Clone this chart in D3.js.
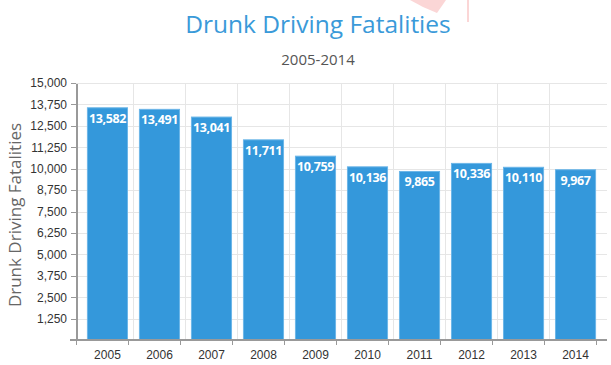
<!DOCTYPE html>
<meta charset="utf-8">
<style>
body { margin: 0; background: #fff; }
svg { font-family: "Open Sans", sans-serif; }
.grid line { stroke: #e6e6e6; shape-rendering: crispEdges; }
.axis path, .axis line { stroke: #999; shape-rendering: crispEdges; }
.axis text { font-size: 12px; fill: #333; }
.bar { fill: #3498db; stroke: #6cb6e8; stroke-width: 1; }
.label { fill: #fff; font-size: 12.5px; font-weight: bold; text-anchor: middle; letter-spacing: -0.4px; }
</style>
<body>
<script src="https://d3js.org/d3.v7.min.js"></script>
<script>

var years = ["2005", "2006", "2007", "2008", "2009", "2010", "2011", "2012", "2013", "2014"];
var fatalities = [13582, 13491, 13041, 11711, 10759, 10136, 9865, 10336, 10110, 9967];
var yTicks = [1250, 2500, 3750, 5000, 6250, 7500, 8750, 10000, 11250, 12500, 13750, 15000];

var W = 611, H = 365;
var margin = {top: 83, right: 4, bottom: 25, left: 76},
    width = W - margin.left - margin.right,
    height = H - margin.top - margin.bottom;

var svg = d3.select("body").append("svg")
    .attr("width", W)
    .attr("height", H);

// faint pink mark near the title
svg.append("path")
    .attr("d", "M410,0 L446,0 L437,13 L423,7 Z")
    .attr("fill", "#fbd6d6");
svg.append("line")
    .attr("x1", 468).attr("x2", 468).attr("y1", 0).attr("y2", 22)
    .attr("stroke", "#fbd6d6").attr("stroke-width", 2);

svg.append("text")
    .attr("x", 318).attr("y", 33)
    .attr("text-anchor", "middle")
    .style("font-size", "24.5px")
    .style("fill", "#3a9ad9")
    .text("Drunk Driving Fatalities");

svg.append("text")
    .attr("x", 318).attr("y", 65)
    .attr("text-anchor", "middle")
    .style("font-size", "15px")
    .style("fill", "#555")
    .text("2005-2014");

svg.append("text")
    .attr("transform", "translate(21," + 215 + ") rotate(-90)")
    .attr("text-anchor", "middle")
    .style("font-size", "17px")
    .style("fill", "#666")
    .text("Drunk Driving Fatalities");

var chart = svg.append("g")
    .attr("transform", "translate(" + margin.left + "," + margin.top + ")");

var x = d3.scaleBand()
    .domain(years)
    .range([0, width])
    .padding(0.21);

var y = d3.scaleLinear()
    .domain([0, 15000])
    .range([height, 0]);

// horizontal grid
chart.append("g").attr("class", "grid")
  .selectAll("line")
  .data(yTicks)
  .enter().append("line")
    .attr("x1", 0).attr("x2", width)
    .attr("y1", function(d) { return Math.round(y(d)) + 0.5; })
    .attr("y2", function(d) { return Math.round(y(d)) + 0.5; });

// vertical grid at category boundaries
chart.append("g").attr("class", "grid")
  .selectAll("line")
  .data(years.slice(1))
  .enter().append("line")
    .attr("x1", function(d) { return x(d) - x.step() * x.paddingInner() / 2; })
    .attr("x2", function(d) { return x(d) - x.step() * x.paddingInner() / 2; })
    .attr("y1", 0).attr("y2", height);

chart.selectAll(".bar")
    .data(fatalities)
  .enter().append("rect")
    .attr("class", "bar")
    .attr("x", function(d, i) { return x(years[i]) + 0.5; })
    .attr("y", function(d) { return y(d) + 0.5; })
    .attr("width", x.bandwidth() - 1)
    .attr("height", function(d) { return height - y(d) - 0.5; });

chart.selectAll(".label")
    .data(fatalities)
  .enter().append("text")
    .attr("class", "label")
    .attr("x", function(d, i) { return x(years[i]) + x.bandwidth() / 2; })
    .attr("y", function(d) { return y(d) + 15.5; })
    .text(function(d) { return d3.format(",")(d); });

var yAxis = chart.append("g")
    .attr("class", "axis")
    .call(d3.axisLeft(y).tickValues(yTicks.concat([0])).tickFormat(function(d) { return d === 0 ? "" : d3.format(",")(d); }).tickSize(5).tickSizeOuter(0).tickPadding(4));
yAxis.select(".domain").attr("stroke-width", 2).attr("stroke", "#aaa");

var xAxis = chart.append("g")
    .attr("class", "axis")
    .attr("transform", "translate(0," + height + ")")
    .call(d3.axisBottom(x).tickSize(0).tickPadding(10));
xAxis.select(".domain").remove();
xAxis.append("line")
    .attr("x1", -6).attr("x2", width)
    .attr("stroke", "#777").attr("stroke-width", 1.5);
xAxis.selectAll(".bound")
    .data(years.concat(["end"]))
  .enter().append("line")
    .attr("class", "bound")
    .attr("x1", function(d, i) { return i * x.step(); })
    .attr("x2", function(d, i) { return i * x.step(); })
    .attr("y1", 0).attr("y2", 5)
    .attr("stroke", "#aaa");

</script>
</body>
